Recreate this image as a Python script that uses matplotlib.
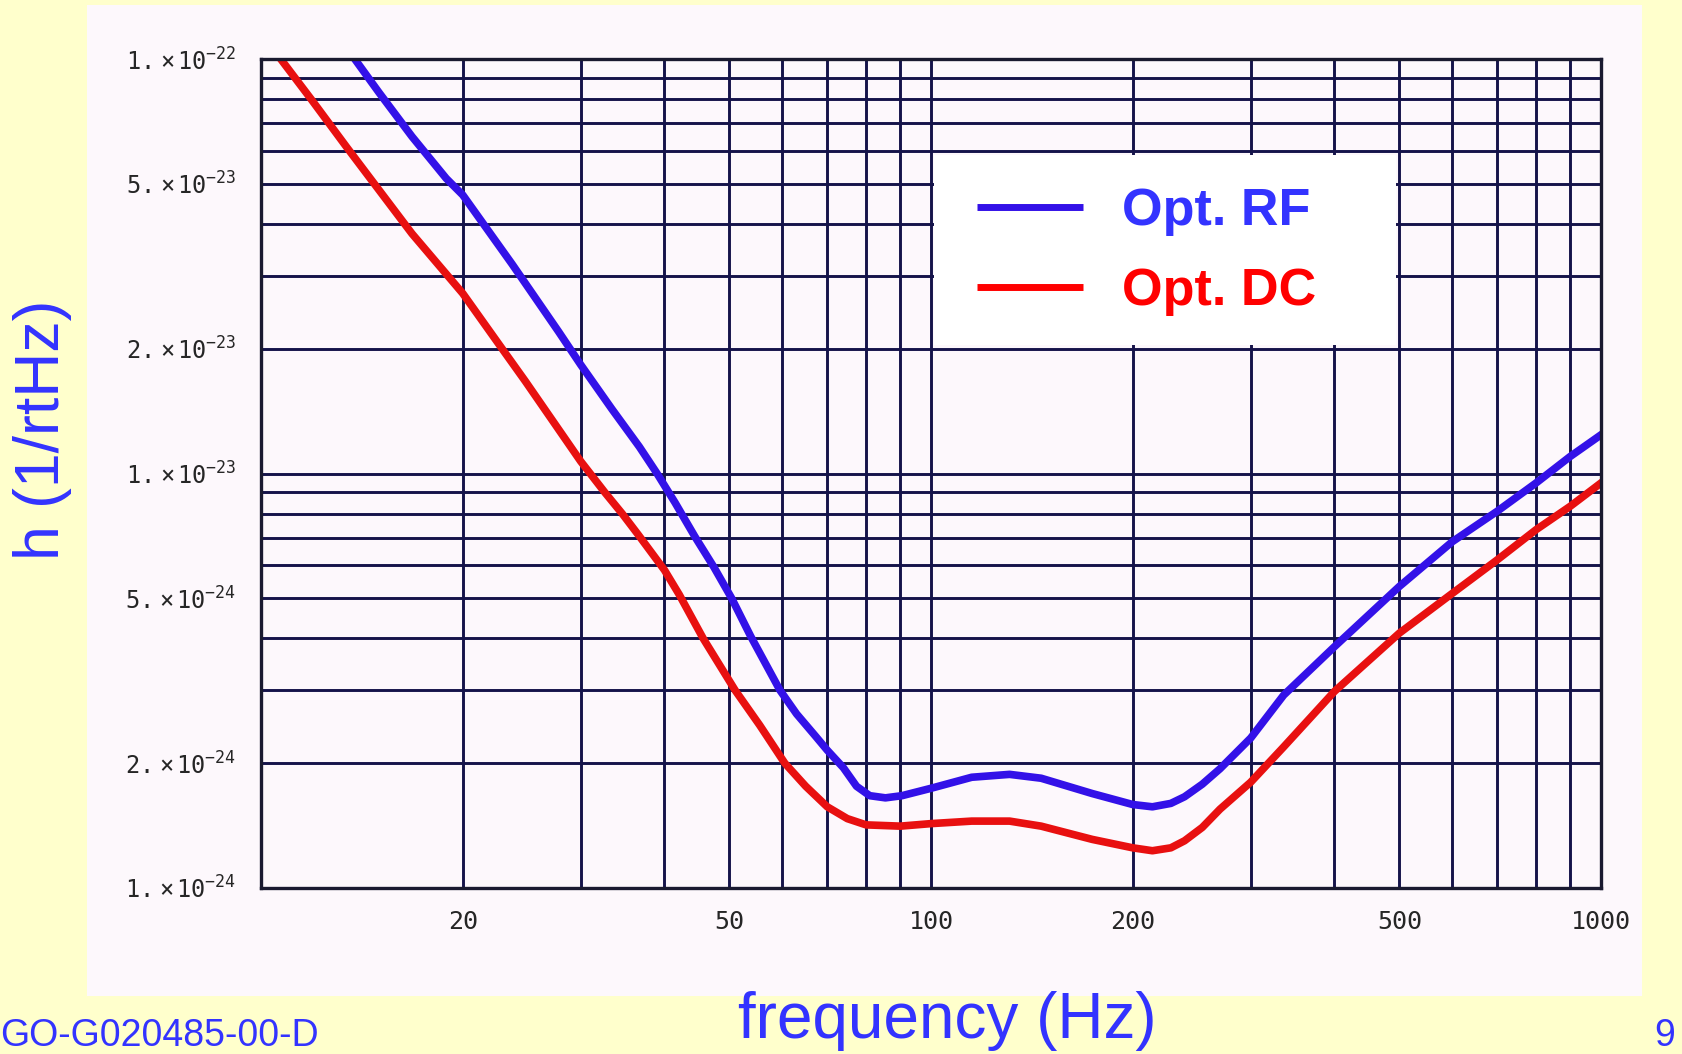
import math
import matplotlib
matplotlib.use("Agg")
import matplotlib.pyplot as plt
from matplotlib.patches import Rectangle
from matplotlib.lines import Line2D
from matplotlib.ticker import FixedLocator, FuncFormatter

# Opt. RF curve (blue)
freq_rf = [13.8, 15.0, 16.8, 18.9, 20, 23.7, 27.8, 30, 33.4, 36.7, 39.0, 41.5, 44.4,
           47.4, 50.4, 53.8, 59.5, 63, 67.3, 70, 74, 77.4, 81, 85.5, 90.5, 100, 115,
           131, 146, 174, 200, 214, 228, 239, 254, 270, 300, 336, 400, 500, 600, 700,
           800, 900, 1000]
h_rf = [1.0e-22, 8.3e-23, 6.5e-23, 5.15e-23, 4.7e-23, 3.2e-23, 2.2e-23, 1.83e-23,
        1.43e-23, 1.16e-23, 1.0e-23, 8.5e-24, 7.05e-24, 5.95e-24, 5.0e-24, 4.05e-24,
        3.0e-24, 2.63e-24, 2.32e-24, 2.15e-24, 1.95e-24, 1.76e-24, 1.67e-24, 1.65e-24,
        1.67e-24, 1.74e-24, 1.85e-24, 1.88e-24, 1.84e-24, 1.69e-24, 1.59e-24,
        1.57e-24, 1.6e-24, 1.66e-24, 1.78e-24, 1.94e-24, 2.3e-24, 2.92e-24,
        3.82e-24, 5.34e-24, 6.85e-24, 8.11e-24, 9.49e-24, 1.10e-23, 1.24e-23]

# Opt. DC curve (red)
freq_dc = [10.7, 11.9, 13.4, 15.0, 16.8, 20, 22.9, 24.8, 30, 32.6, 34.6, 36.6, 40,
           42.1, 45.7, 51, 55.5, 60.5, 65, 70, 75, 80, 90, 100, 115, 131, 146, 174,
           200, 214, 228, 239, 254, 270, 300, 336, 400, 500, 600, 700, 800, 900, 1000]
h_dc = [1.0e-22, 7.97e-23, 6.15e-23, 4.83e-23, 3.79e-23, 2.72e-23, 2.0e-23, 1.67e-23,
        1.07e-23, 9.0e-24, 8.0e-24, 7.1e-24, 5.85e-24, 5.1e-24, 4.0e-24, 3.0e-24,
        2.47e-24, 2.0e-24, 1.76e-24, 1.57e-24, 1.47e-24, 1.42e-24, 1.41e-24,
        1.43e-24, 1.45e-24, 1.45e-24, 1.41e-24, 1.31e-24, 1.25e-24, 1.23e-24,
        1.25e-24, 1.30e-24, 1.40e-24, 1.55e-24, 1.80e-24, 2.19e-24, 2.98e-24,
        4.12e-24, 5.14e-24, 6.19e-24, 7.32e-24, 8.34e-24, 9.49e-24]

x_grid = [20, 30, 40, 50, 60, 70, 80, 90, 100, 200, 300, 400, 500, 600, 700, 800, 900, 1000]
x_labels = [20, 50, 100, 200, 500, 1000]
y_grid = [2e-24, 3e-24, 4e-24, 5e-24, 6e-24, 7e-24, 8e-24, 9e-24, 1e-23,
          2e-23, 3e-23, 4e-23, 5e-23, 6e-23, 7e-23, 8e-23, 9e-23, 1e-22]
y_labels = [1e-24, 2e-24, 5e-24, 1e-23, 2e-23, 5e-23, 1e-22]

series_names = ["Opt. RF", "Opt. DC"]

plt.rcParams['mathtext.fontset'] = 'custom'
plt.rcParams['mathtext.rm'] = 'DejaVu Sans Mono'
plt.rcParams['mathtext.it'] = 'DejaVu Sans Mono'

YELLOW = '#FFFFCC'
TXT_BLUE = '#3333FF'
LINE_BLUE = '#3311E8'
LINE_RED = '#E81010'
GRID = '#15134A'

fig = plt.figure(figsize=(16.83, 10.54), dpi=100)
fig.patch.set_facecolor(YELLOW)

# pasted-in picture area
fig.add_artist(Rectangle((0.0517, 0.055), 0.924, 0.9403, transform=fig.transFigure,
                         facecolor='#FDF8FC', edgecolor='none', zorder=0))

ax = fig.add_axes([0.1551, 0.1575, 0.7962, 0.7865])
ax.set_facecolor('#FDF8FC')
ax.set_xscale('log')
ax.set_yscale('log')
ax.set_xlim(10, 1000)
ax.set_ylim(1e-24, 1e-22)

ax.plot(freq_rf, h_rf, color=LINE_BLUE, lw=5.5, zorder=3, solid_joinstyle='round')
ax.plot(freq_dc, h_dc, color=LINE_RED, lw=5.5, zorder=3, solid_joinstyle='round')

for v in x_grid:
    ax.axvline(v, color=GRID, lw=2.1, zorder=1)
for v in y_grid:
    ax.axhline(v, color=GRID, lw=2.1, zorder=1)

ax.xaxis.set_major_locator(FixedLocator(x_labels))
ax.xaxis.set_minor_locator(FixedLocator([]))
ax.yaxis.set_major_locator(FixedLocator(y_labels))
ax.yaxis.set_minor_locator(FixedLocator([]))
ax.xaxis.set_major_formatter(FuncFormatter(lambda v, p: f"{v:g}"))


def sci_label(v, p):
    e = int(math.floor(math.log10(v) + 1e-9))
    m = int(round(v / 10 ** e))
    return r"$%d.\times10^{%d}$" % (m, e)


ax.yaxis.set_major_formatter(FuncFormatter(sci_label))
ax.tick_params(axis='both', length=0, colors='#262626')
ax.tick_params(axis='x', pad=16, labelsize=18)
ax.tick_params(axis='y', pad=18, labelsize=17)
for lab in ax.get_xticklabels():
    lab.set_family('DejaVu Sans Mono')

for s in ax.spines.values():
    s.set_color('#1a1a30')
    s.set_linewidth(2.4)
    s.set_zorder(4)

# legend drawn as white box over the grid
ax.add_patch(Rectangle((0.502, 0.655), 0.345, 0.229, transform=ax.transAxes,
                       facecolor='white', edgecolor='none', zorder=2))
leg_colors = [(LINE_BLUE, TXT_BLUE), ('#FF0000', '#FF0000')]
leg_y = [0.8215, 0.7250]
for name, (lc, tc), yy in zip(series_names, leg_colors, leg_y):
    ax.add_line(Line2D([0.534, 0.6137], [yy, yy], transform=ax.transAxes,
                       color=lc, lw=5, solid_capstyle='butt', zorder=3))
    ax.text(0.6425, yy - 0.022, name, transform=ax.transAxes, color=tc,
            fontsize=37.5, fontweight='bold', family='Liberation Sans',
            va='baseline', ha='left', zorder=3)

fig.text(0.0255, 0.592, "h (1/rtHz)", rotation=90, color=TXT_BLUE, fontsize=45,
         family='Liberation Sans', ha='center', va='center')
fig.text(0.563, 0.031, "frequency (Hz)", color=TXT_BLUE, fontsize=46,
         family='Liberation Sans', ha='center', va='center')
fig.text(0.0, 0.017, "GO-G020485-00-D", color=TXT_BLUE, fontsize=27,
         family='Liberation Sans', ha='left', va='center')
fig.text(0.989, 0.017, "9", color=TXT_BLUE, fontsize=27,
         family='Liberation Sans', ha='center', va='center')

fig.savefig('out.png', dpi=100, facecolor=fig.get_facecolor())
